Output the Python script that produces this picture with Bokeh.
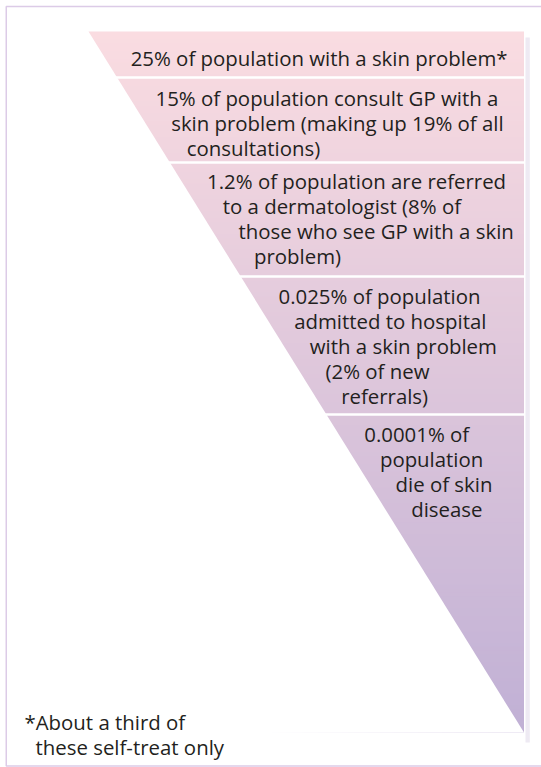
import numpy as np
from bokeh.plotting import figure
from bokeh.models import Range1d
from bokeh.core.properties import value
from bokeh.embed import file_html
from bokeh.resources import INLINE

# ---------------- data (texts of the diagram) ----------------
band_1 = ["25% of population with a skin problem*"]
band_2 = ["15% of population consult GP with a",
          "skin problem (making up 19% of all",
          "consultations)"]
band_3 = ["1.2% of population are referred",
          "to a dermatologist (8% of",
          "those who see GP with a skin",
          "problem)"]
band_4 = ["0.025% of population",
          "admitted to hospital",
          "with a skin problem",
          "(2% of new",
          "referrals)"]
band_5 = ["0.0001% of",
          "population",
          "die of skin",
          "disease"]
bands = [band_1, band_2, band_3, band_4, band_5]
footnote = ["*About a third of", "these self-treat only"]

# ---------------- layout (picture pixel units) ----------------
OX, OY = 0, 0          # picture position of the canvas origin
W, H = 541, 767
TRI_TOP, TRI_LEFT, TRI_RIGHT, TRI_APEX = 31, 88, 523.5, 732
band_tops = [31, 77, 162, 276, 414]
first_line_offset = [26, 20, 18, 19, 19]
LINE_H = 25.2
TEXT_PAD = 26
TOP_COLOR = np.array([250, 220, 225])
BOTTOM_COLOR = np.array([192, 176, 213])
TEXT_COLOR = "#231f20"
FONT = value("Open Sans")
FONT_SIZE = "20.4px"


def edge_x(y):
    return TRI_LEFT + (y - TRI_TOP) * (TRI_RIGHT - TRI_LEFT) / (TRI_APEX - TRI_TOP)


p = figure(width=W, height=H, x_range=Range1d(OX, OX + W), y_range=Range1d(OY + H, OY),
           output_backend="svg", toolbar_location=None, min_border=0,
           background_fill_color="white", border_fill_color="white")
p.axis.visible = False
p.grid.visible = False
p.outline_line_color = None

# gradient fill of the funnel (horizontal slices)
n = 180
ys = np.linspace(TRI_TOP, TRI_APEX, n + 1)
tops = ys[:-1]
bottoms = np.minimum(ys[1:] + 0.8, TRI_APEX)
t = (tops - TRI_TOP) / (TRI_APEX - TRI_TOP)
cols = ["#%02x%02x%02x" % tuple(np.round(TOP_COLOR + (BOTTOM_COLOR - TOP_COLOR) * tt).astype(int)) for tt in t]
p.quad(left=TRI_LEFT, right=TRI_RIGHT, top=tops, bottom=bottoms, fill_color=cols, line_color=None)

# white mask below the sloped edge
p.patch([TRI_LEFT - 20, TRI_LEFT, TRI_RIGHT, TRI_LEFT - 20],
        [TRI_TOP, TRI_TOP, TRI_APEX, TRI_APEX + 1], fill_color="white", line_color=None)

# shadow strip on the right
p.quad(left=525, right=529.3, top=37, bottom=742, fill_color="#eeeaf3", line_color=None)

# white separators between bands
sep_y = band_tops[1:]
p.segment(x0=[edge_x(y) - 6 for y in sep_y], y0=sep_y, x1=TRI_RIGHT, y1=sep_y,
          line_color="white", line_width=2.5)

# frame
p.multi_line(xs=[[545, 5.75, 5.75, 545]], ys=[[6, 6, 765.5, 765.5]], line_color="#dccbe7", line_width=1.5)

# band texts
tx, ty, tt_ = [], [], []
for b, lines in enumerate(bands):
    for i, s in enumerate(lines):
        y = band_tops[b] + first_line_offset[b] + i * LINE_H
        tx.append(edge_x(y) + TEXT_PAD)
        ty.append(y)
        tt_.append(s)
p.text(x=tx, y=ty, text=tt_, text_font=FONT, text_font_size=FONT_SIZE,
       text_color=TEXT_COLOR, text_baseline="middle", text_align="left")

# footnote
p.text(x=[24, 35], y=[721, 746], text=footnote, text_font=FONT, text_font_size=FONT_SIZE,
       text_color=TEXT_COLOR, text_baseline="middle", text_align="left")

open("out.html", "w").write(file_html(p, INLINE))
